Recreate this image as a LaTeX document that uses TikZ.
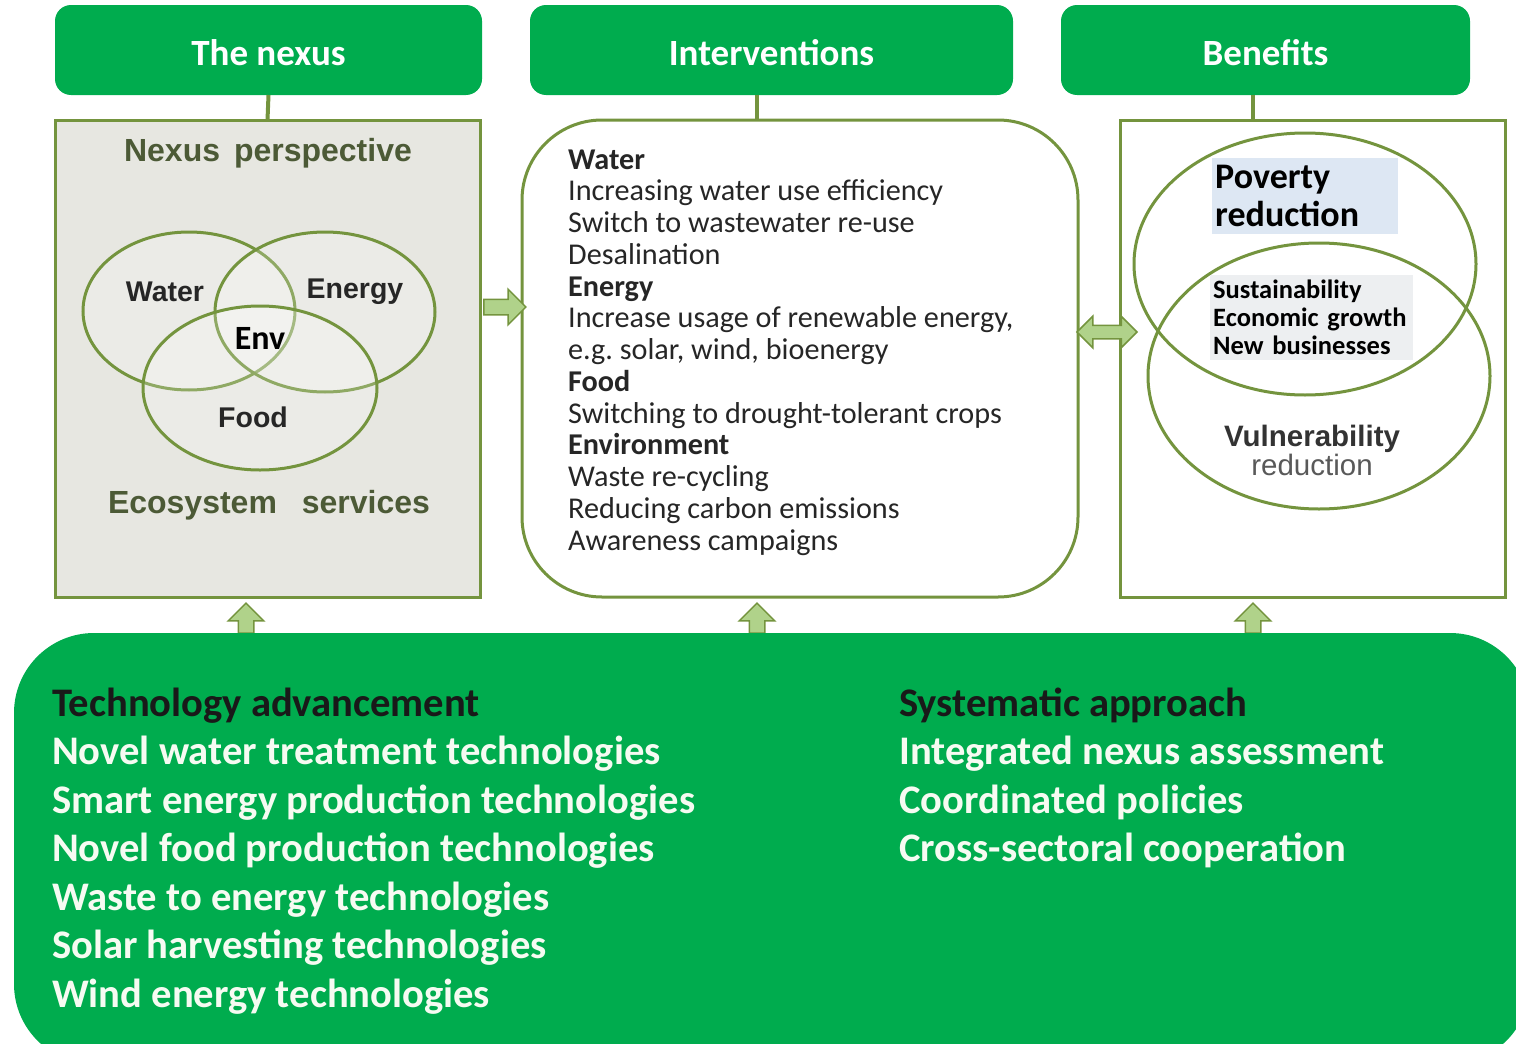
\documentclass[tikz,border=0pt]{standalone}
\usepackage{fontspec}
\setmainfont{Carlito}
\newfontfamily\arialfont{Liberation Sans}
\usetikzlibrary{shapes.arrows}
\frenchspacing
\definecolor{leafgreen}{RGB}{0,172,78}
\definecolor{mossline}{RGB}{116,148,62}
\definecolor{mossfill}{RGB}{176,210,138}
\definecolor{paneltext}{RGB}{76,90,54}
\definecolor{greybox}{RGB}{231,231,225}
\definecolor{povblue}{RGB}{221,231,243}
\definecolor{sustgrey}{RGB}{237,239,241}
\definecolor{offwhite}{RGB}{246,251,242}
\tikzset{
  headbox/.style={fill=leafgreen, rounded corners=16pt, minimum height=90pt, outer sep=0pt, text height=30pt, text depth=0pt, text=white, font=\bfseries\fontsize{37}{44}\selectfont},
  framebox/.style={draw=mossline, line width=3pt, minimum height=477pt, outer sep=0pt},
  link/.style={draw=mossline, line width=4pt},
  venn/.style={draw=mossline, line width=3pt},
  vennlabel/.style={inner sep=0pt, text=black!85, font=\arialfont\bfseries\fontsize{28.5}{32}\selectfont},
  blockarrow/.style={single arrow, draw=mossline, fill=mossfill, line width=1.5pt, inner sep=7pt, single arrow head extend=10pt, single arrow head indent=0pt},
  listline/.style={anchor=base west, inner sep=0pt, text=black!85, font=\fontsize{30.2}{32}\selectfont},
  panelline/.style={anchor=base west, inner sep=0pt, text=offwhite, font=\bfseries\fontsize{40.6}{44}\selectfont},
  panelhead/.style={panelline, text=black!90}
}
\begin{document}
\begin{tikzpicture}[x=1pt,y=-1pt]
\useasboundingbox (0,0) rectangle (1516,1044);
\node[headbox, minimum width=427pt] (nexushead) at (268.5,50) {The nexus};
\node[headbox, minimum width=483pt] (inthead) at (771.5,50) {Interventions};
\node[headbox, minimum width=409pt] (benhead) at (1265.5,50) {Benefits};
\node[framebox, fill=greybox, minimum width=425pt] (nexusbox) at (267.5,358.5) {};
\node[framebox, fill=white, rounded corners=80pt, minimum width=556pt] (intbox) at (800,358.5) {};
\node[framebox, fill=white, minimum width=385pt] (benbox) at (1312.5,358.5) {};
\coordinate (intlink) at (757,0);
\coordinate (benlink) at (1253,0);
\draw[link] (nexushead.south) -- (nexusbox.north);
\draw[link] (inthead.south -| intlink) -- (intbox.north -| intlink);
\draw[link] (benhead.south -| benlink) -- (benbox.north -| benlink);

\node[text=paneltext, font=\arialfont\bfseries\fontsize{32}{36}\selectfont] (perspective) at (268,153) {Nexus\hspace{5pt} perspective};
\draw[venn, fill=white, fill opacity=0.2] (189,311) ellipse [x radius=106, y radius=79];
\draw[venn, fill=white, fill opacity=0.2] (325,312) ellipse [x radius=110, y radius=80];
\draw[venn, fill=white, fill opacity=0.2] (260,388) ellipse [x radius=117, y radius=82];
\node[vennlabel] (water) at (165,292) {Water};
\node[vennlabel] (energy) at (355,292) {Energy};
\node[vennlabel, text=black, font=\bfseries\fontsize{34}{38}\selectfont] (env) at (260,338) {Env};
\node[vennlabel] (food) at (253,417) {Food};
\node[text=paneltext, font=\arialfont\bfseries\fontsize{32}{36}\selectfont] (ecosystem) at (269,505) {Ecosystem\hspace{16pt} services};

\foreach \t [count=\i from 0] in {\textbf{Water}, Increasing water use efficiency, Switch to wastewater re-use, Desalination, \textbf{Energy}, {Increase usage of renewable energy,}, {e.g. solar, wind, bioenergy}, \textbf{Food}, Switching to drought-tolerant crops, \textbf{Environment}, Waste re-cycling, Reducing carbon emissions, Awareness campaigns}
  \node[listline] (int\i) at (568,169+31.75*\i) {\t};

\draw[venn] (1305,264) ellipse [x radius=171, y radius=131];
\draw[venn] (1319,376) ellipse [x radius=171, y radius=133];
\node[fill=povblue, anchor=north west, minimum width=186pt, minimum height=76pt, text width=180pt, align=left, inner sep=3pt, font=\bfseries\fontsize{36}{38}\selectfont] (poverty) at (1212,158) {Poverty\\reduction};
\node[fill=sustgrey, anchor=north west, minimum width=203pt, minimum height=85pt, text width=197pt, align=left, inner sep=3pt, font=\bfseries\fontsize{26.5}{28}\selectfont] (sustain) at (1210,275) {Sustainability\\Economic growth\\New businesses};
\node[align=center, text=black!80, font=\arialfont\fontsize{29.5}{29}\selectfont] (vulner) at (1312,450) {\textbf{Vulnerability}\\{\color{black!65}reduction}};

\node[blockarrow, minimum height=42pt] (toint) at (501,307) {};
\node[blockarrow, double arrow, inner sep=6pt, double arrow head extend=9pt, minimum height=60pt] (toben) at (1107,332) {};
\foreach \x/\n in {246/nexus, 757/int, 1253/ben}
  \node[blockarrow, minimum height=30pt, shape border rotate=90] (up\n) at (\x,622) {};

\fill[leafgreen, rounded corners=80pt] (14,633) rectangle (1530,1064);
\node[panelhead] (techhead) at (52,716) {Technology advancement};
\foreach \t [count=\i] in {Novel water treatment technologies, Smart energy production technologies, Novel food production technologies, Waste to energy technologies, Solar harvesting technologies, Wind energy technologies}
  \node[panelline] (tech\i) at (52,716+48.5*\i) {\t};
\node[panelhead] (systhead) at (899,716) {Systematic approach};
\foreach \t [count=\i] in {Integrated nexus assessment, Coordinated policies, Cross-sectoral cooperation}
  \node[panelline] (syst\i) at (899,716+48.5*\i) {\t};
\end{tikzpicture}
\end{document}
